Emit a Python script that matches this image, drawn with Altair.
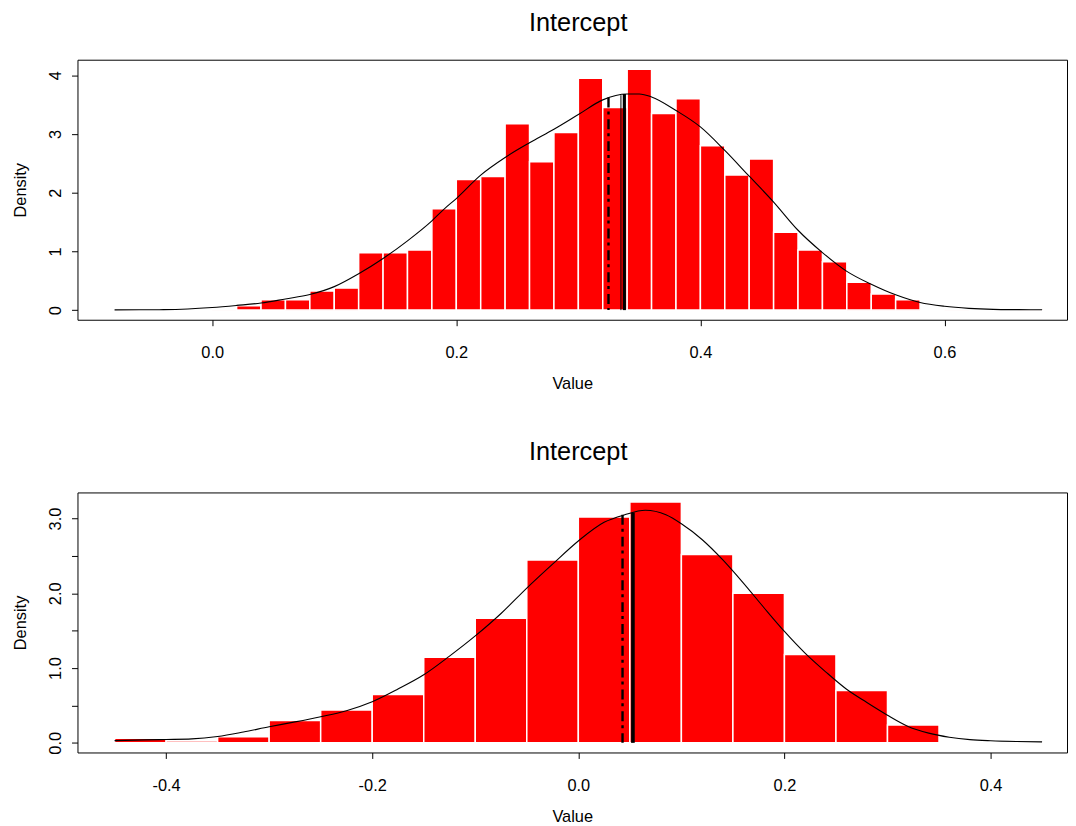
import altair as alt
import pandas as pd

FONT = "Liberation Sans"

# ---------------- top panel data ----------------
top_edges = [-0.08, -0.06, -0.04, -0.02, 0.00, 0.02, 0.04, 0.06, 0.08, 0.10,
             0.12, 0.14, 0.16, 0.18, 0.20, 0.22, 0.24, 0.26, 0.28, 0.30,
             0.32, 0.34, 0.36, 0.38, 0.40, 0.42, 0.44, 0.46, 0.48, 0.50,
             0.52, 0.54, 0.56, 0.58, 0.60, 0.62, 0.64, 0.66, 0.68]
top_density = [0.025, 0, 0, 0, 0.025, 0.075, 0.175, 0.175, 0.325, 0.375,
               0.975, 0.975, 1.025, 1.725, 2.225, 2.275, 3.175, 2.525, 3.025, 3.95,
               3.45, 4.10, 3.35, 3.60, 2.80, 2.30, 2.575, 1.325, 1.025, 0.825,
               0.475, 0.275, 0.175, 0, 0.025, 0, 0, 0.025]
top_curve_x = [-0.08, -0.06, -0.04, -0.02, 0.00, 0.02, 0.04, 0.06, 0.08, 0.10,
               0.12, 0.14, 0.16, 0.18, 0.19, 0.20, 0.22, 0.24, 0.26, 0.28,
               0.30, 0.32, 0.34, 0.35, 0.36, 0.38, 0.40, 0.42, 0.44, 0.46,
               0.48, 0.50, 0.52, 0.54, 0.56, 0.58, 0.60, 0.62, 0.64, 0.66, 0.68]
top_curve_y = [0.004, 0.005, 0.008, 0.02, 0.045, 0.08, 0.12, 0.19, 0.265, 0.40,
               0.62, 0.88, 1.18, 1.52, 1.72, 1.90, 2.30, 2.60, 2.85, 3.08,
               3.33, 3.58, 3.68, 3.68, 3.63, 3.40, 3.12, 2.72, 2.28, 1.84,
               1.36, 0.98, 0.66, 0.44, 0.26, 0.13, 0.065, 0.03, 0.013, 0.008, 0.005]
top_dash_line = (0.3247, 3.62)
top_thin_line = (0.3349, 3.66)
top_thick_line = (0.3377, 3.68)
top_xticks = [0.0, 0.2, 0.4, 0.6]
top_yticks = [0, 1, 2, 3, 4]
top_xdomain = [-0.1104, 0.7004]
top_ydomain = [-0.164, 4.264]

# ---------------- bottom panel data ----------------
bot_edges = [-0.45, -0.40, -0.35, -0.30, -0.25, -0.20, -0.15, -0.10, -0.05, 0.00,
             0.05, 0.10, 0.15, 0.20, 0.25, 0.30, 0.35, 0.40, 0.45]
bot_density = [0.06, 0.025, 0.08, 0.30, 0.44, 0.645, 1.145, 1.665, 2.445, 3.02,
               3.22, 2.52, 2.00, 1.18, 0.70, 0.24, 0, 0.02]
bot_curve_x = [-0.45, -0.42, -0.40, -0.375, -0.35, -0.325, -0.30, -0.275, -0.25, -0.225,
               -0.20, -0.175, -0.15, -0.125, -0.10, -0.075, -0.05, -0.025, 0.0, 0.025,
               0.045, 0.065, 0.085, 0.10, 0.12, 0.14, 0.16, 0.18, 0.20, 0.22,
               0.24, 0.26, 0.28, 0.30, 0.32, 0.34, 0.36, 0.38, 0.40, 0.425, 0.45]
bot_curve_y = [0.03, 0.04, 0.045, 0.053, 0.085, 0.145, 0.215, 0.28, 0.35, 0.43,
               0.55, 0.72, 0.91, 1.16, 1.43, 1.73, 2.07, 2.39, 2.70, 2.95,
               3.05, 3.11, 3.05, 2.93, 2.72, 2.45, 2.14, 1.81, 1.49, 1.20,
               0.95, 0.72, 0.54, 0.37, 0.22, 0.13, 0.075, 0.043, 0.028, 0.018, 0.013]
bot_dash_line = (0.0429, 3.05)
bot_thin_line = (0.0518, 3.075)
bot_thick_line = (0.0532, 3.08)
bot_xticks = [-0.4, -0.2, 0.0, 0.2, 0.4]
bot_yticks = [0, 0.5, 1.0, 1.5, 2.0, 2.5, 3.0]
bot_xdomain = [-0.486, 0.4742]
bot_ydomain = [-0.129, 3.349]

X_LABELS = "datum.value < 0 ? '-' + format(-datum.value, '.1f') : format(datum.value, '.1f')"


def make_panel(edges, dens, cx, cy, dash_l, thin_l, thick_l,
               xticks, yticks, xdom, ydom, ylabel_expr, title_offset):
    bars = pd.DataFrame({"start": edges[:-1], "end": edges[1:], "density": dens})
    bars = bars[bars["density"] > 0]
    curve = pd.DataFrame({"x": cx, "y": cy})

    xaxis = alt.Axis(values=xticks, title="Value", labelExpr=X_LABELS,
                     domain=False, grid=False, ticks=True, tickSize=6,
                     tickColor="black", tickWidth=1,
                     labelFont=FONT, labelFontSize=16.5, labelColor="black",
                     labelPadding=19.5, labelFlush=False, labelOverlap=False,
                     titleFont=FONT, titleFontSize=16.5, titleFontWeight="normal",
                     titleColor="black", titlePadding=14.5)
    yaxis = alt.Axis(values=yticks, title="Density", labelExpr=ylabel_expr,
                     domain=False, grid=False, ticks=True, tickSize=6,
                     tickColor="black", tickWidth=1,
                     labelAngle=270, labelAlign="center", labelBaseline="bottom",
                     labelFont=FONT, labelFontSize=16.5, labelColor="black",
                     labelPadding=8.4, labelFlush=False, labelOverlap=False,
                     titleFont=FONT, titleFontSize=16.5, titleFontWeight="normal",
                     titleColor="black", titlePadding=18.5,
                     titleAngle=270, titleBaseline="bottom")
    xs = alt.Scale(domain=xdom, nice=False, zero=False)
    ys = alt.Scale(domain=ydom, nice=False, zero=False)

    def X(f):
        return alt.X(f, type="quantitative", scale=xs, axis=xaxis)

    def Y(f):
        return alt.Y(f, type="quantitative", scale=ys, axis=yaxis)

    bar_layer = alt.Chart(bars).mark_bar(
        color="#FF0000", stroke="white", strokeWidth=1.5
    ).encode(x=X("start"), x2="end", y=Y("density"), y2=alt.datum(0))

    curve_layer = alt.Chart(curve).mark_line(
        color="black", strokeWidth=1.1, interpolate="monotone"
    ).encode(x=X("x"), y=Y("y"))

    def vline(pos, dash=None, width=1.0):
        df = pd.DataFrame({"x": [pos[0]], "top": [pos[1]]})
        kw = dict(color="black", strokeWidth=width)
        if dash is not None:
            kw["strokeDash"] = dash
        return alt.Chart(df).mark_rule(**kw).encode(
            x=X("x"), y=Y("top"), y2=alt.datum(0))

    layers = alt.layer(
        bar_layer,
        curve_layer,
        vline(dash_l, dash=[10, 4, 3, 5], width=2.4),
        vline(thin_l, width=1.0),
        vline(thick_l, width=3.2),
    ).properties(
        width=997, height=262,
        title=alt.TitleParams(text="Intercept", font=FONT, fontSize=25.5,
                              fontWeight="normal", color="black", anchor="middle",
                              offset=title_offset, baseline="alphabetic", dx=6),
    )
    return layers


top = make_panel(top_edges, top_density, top_curve_x, top_curve_y,
                 top_dash_line, top_thin_line, top_thick_line,
                 top_xticks, top_yticks, top_xdomain, top_ydomain,
                 "format(datum.value, 'd')", 3)
bottom = make_panel(bot_edges, bot_density, bot_curve_x, bot_curve_y,
                    bot_dash_line, bot_thin_line, bot_thick_line,
                    bot_xticks, bot_yticks, bot_xdomain, bot_ydomain,
                    "datum.value % 1 == 0 ? format(datum.value, '.1f') : ''", 7.5)

chart = alt.vconcat(top, bottom, spacing=46).properties(
    padding={"left": 4, "top": 0, "right": 0, "bottom": 0}
).configure_view(
    stroke="black", strokeWidth=1
)

chart.save("out.html", embed_options={"renderer": "svg", "actions": False})
